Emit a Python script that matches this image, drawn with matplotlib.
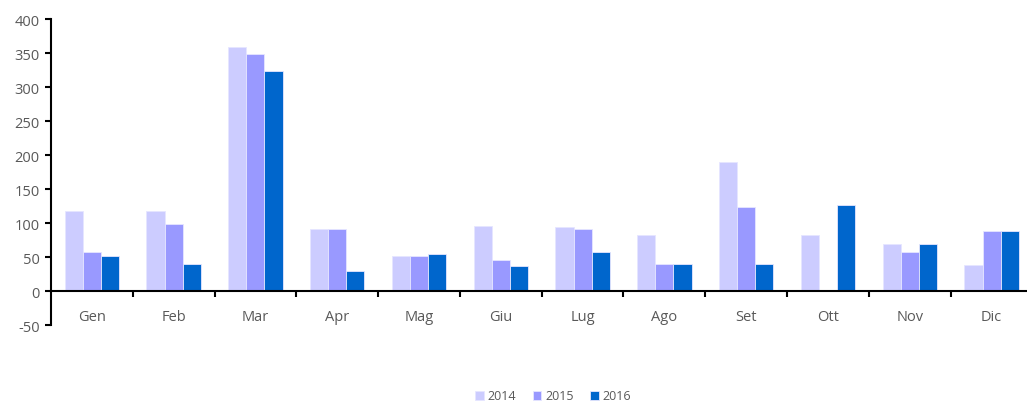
import numpy as np
import matplotlib.pyplot as plt

mesi = ['Gen', 'Feb', 'Mar', 'Apr', 'Mag', 'Giu', 'Lug', 'Ago', 'Set', 'Ott', 'Nov', 'Dic']
anni = ['2014', '2015', '2016']
v2014 = [118, 118, 359, 91, 51, 96, 94, 82, 189, 82, 69, 38]
v2015 = [57, 99, 348, 91, 51, 46, 91, 40, 124, 0, 57, 88]
v2016 = [52, 40, 323, 29, 54, 37, 57, 40, 40, 127, 69, 88]
colori = ['#CCCCFF', '#9999FF', '#0066CC']

plt.rcParams['font.family'] = ['Open Sans', 'DejaVu Sans']
plt.rcParams['axes.unicode_minus'] = False
grigio = '#595959'

fig = plt.figure(figsize=(10.27, 4.06), dpi=100)
ax = fig.add_axes([50.9 / 1027, 1 - 326 / 406, (1032.5 - 50.9) / 1027, (326 - 20) / 406])

x = np.arange(len(mesi))
w = 1 / 4.5
for i, (serie, col) in enumerate(zip([v2014, v2015, v2016], colori)):
    ax.bar(x + (i - 1) * w, serie, w, color=col, edgecolor='#e6e6ff', linewidth=0.6,
           label=anni[i], zorder=2)

ax.set_xlim(-0.5, len(mesi) - 0.5)
ax.set_ylim(-50, 400)
ax.set_yticks(np.arange(-50, 401, 50))
ax.tick_params(axis='y', labelsize=10.5, labelcolor=grigio, length=4, width=1.5, pad=4)

ax.spines['top'].set_visible(False)
ax.spines['right'].set_visible(False)
ax.spines['left'].set_linewidth(1.5)
ax.spines['bottom'].set_linewidth(1.5)
ax.spines['bottom'].set_position(('data', 0))

ax.set_xticks(np.arange(0.5, len(mesi) - 1, 1))
ax.set_xticklabels([])
ax.tick_params(axis='x', which='major', length=4, width=1.5, direction='out')
ax.set_xticks(x, minor=True)
ax.set_xticklabels(mesi, minor=True)
ax.tick_params(axis='x', which='minor', length=0, labelsize=10.5, labelcolor=grigio, pad=13)

ax.legend(loc='lower center', bbox_to_anchor=(553 / 1027, -5 / 406), bbox_transform=fig.transFigure,
          ncol=3, frameon=False, fontsize=9, labelcolor=grigio, handlelength=0.7,
          handleheight=0.7, handletextpad=0.3, columnspacing=1.3, borderaxespad=0.2)

fig.savefig('out.png', dpi=100)
